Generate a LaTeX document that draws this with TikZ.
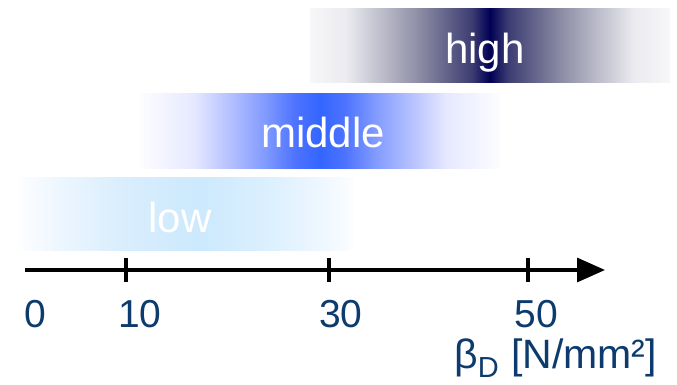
\documentclass[tikz,border=0pt]{standalone}
\usepackage{fontspec}
\setmainfont{Liberation Sans}
\usetikzlibrary{arrows.meta}
\definecolor{numblue}{HTML}{0D3B6E}
% high bar colours
\definecolor{hE}{HTML}{F7F7F9}
\definecolor{hA}{HTML}{EBEBF0}
\definecolor{hB}{HTML}{8E8EA6}
\definecolor{hC}{HTML}{3C3C72}
\definecolor{hD}{HTML}{000055}
% middle bar colours
\definecolor{mE}{HTML}{FDFDFF}
\definecolor{mA}{HTML}{E6E8FF}
\definecolor{mB}{HTML}{B4C0FF}
\definecolor{mC}{HTML}{7F99FF}
\definecolor{mG}{HTML}{4E73FF}
\definecolor{mD}{HTML}{3366FF}
% low bar colours
\definecolor{lE}{HTML}{FDFEFF}
\definecolor{lA}{HTML}{EAF5FE}
\definecolor{lB}{HTML}{DAEEFD}
\definecolor{lC}{HTML}{CCE9FD}
\definecolor{lD}{HTML}{DCF0FE}
\definecolor{lF}{HTML}{EEF7FF}
\pgfdeclarehorizontalshading{highshade}{100bp}{color(0bp)=(hE); color(25bp)=(hE); color(30bp)=(hA); color(40bp)=(hB); color(47.5bp)=(hC); color(50bp)=(hD); color(52.5bp)=(hC); color(60bp)=(hB); color(70bp)=(hA); color(75bp)=(hE); color(100bp)=(hE)}
\pgfdeclarehorizontalshading{middleshade}{100bp}{color(0bp)=(mE); color(25bp)=(mE); color(32.5bp)=(mA); color(37.5bp)=(mB); color(42.5bp)=(mC); color(46.5bp)=(mG); color(50bp)=(mD); color(53.5bp)=(mG); color(57.5bp)=(mC); color(62.5bp)=(mB); color(67.5bp)=(mA); color(75bp)=(mE); color(100bp)=(mE)}
\pgfdeclarehorizontalshading{lowshade}{100bp}{color(0bp)=(lE); color(25bp)=(lE); color(32.5bp)=(lA); color(40bp)=(lB); color(52bp)=(lC); color(62.5bp)=(lD); color(70bp)=(lF); color(75bp)=(lE); color(100bp)=(lE)}
\tikzset{
  bar/.style={rectangle, inner sep=0pt, outer sep=0pt, draw=none},
  barlabel/.style={anchor=base, text=white, inner sep=0pt, font=\fontsize{42}{50}\selectfont},
  num/.style={anchor=base, text=numblue, inner sep=0pt, font=\fontsize{39}{46}\selectfont},
  unit/.style={anchor=base west, text=numblue, inner sep=0pt, font=\fontsize{41}{48}\selectfont},
  axisline/.style={line width=3.3pt, -{Triangle[length=28pt,width=24pt]}},
  tick/.style={line width=3.3pt}
}
\begin{document}
\begin{tikzpicture}[x=1pt,y=-1pt]
\useasboundingbox (0,0) rectangle (677,385);
% bars
\node[bar, shading=highshade, minimum width=360pt, minimum height=74pt] (highbar) at (490,46) {};
\node[bar, shading=middleshade, minimum width=360pt, minimum height=74pt] (middlebar) at (320,131) {};
\node[bar, shading=lowshade, minimum width=338pt, minimum height=73pt] (lowbar) at (186,213.5) {};
\node[barlabel] (thigh) at (485,64) {high};
\node[barlabel] (tmiddle) at (323,147) {middle};
\node[barlabel] (tlow) at (180,232) {low};
% axis
\coordinate (a0) at (25,270);
\coordinate (a1) at (605,270);
\draw[axisline] (a0) -- (a1);
\coordinate (t10a) at (126,258); \coordinate (t10b) at (126,282);
\coordinate (t30a) at (329,258); \coordinate (t30b) at (329,282);
\coordinate (t50a) at (528,258); \coordinate (t50b) at (528,282);
\draw[tick] (t10a) -- (t10b);
\draw[tick] (t30a) -- (t30b);
\draw[tick] (t50a) -- (t50b);
% numbers
\node[num] (n0) at (35,327) {0};
\node[num] (n10) at (140,327) {10};
\node[num] (n30) at (341,327) {30};
\node[num] (n50) at (536,327) {50};
% unit label
\node[unit] (usym) at (454,368) {β\raisebox{-9pt}{\fontsize{29}{29}\selectfont D}};
\node[unit] (utxt) at (511,368) {[N/mm²]};
\end{tikzpicture}
\end{document}
